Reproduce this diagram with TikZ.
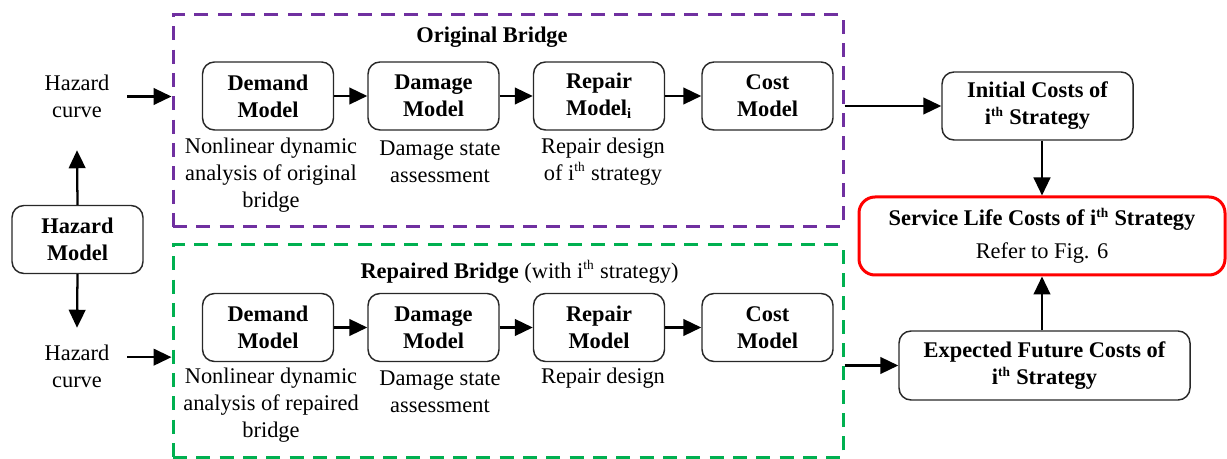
\documentclass[tikz,border=0pt]{standalone}
\usepackage{fontspec}
\setmainfont{Liberation Serif}
\usetikzlibrary{arrows.meta}
\definecolor{bridgepurple}{RGB}{112,48,160}
\definecolor{bridgegreen}{RGB}{0,176,80}
\definecolor{boxline}{RGB}{40,40,40}
% small raised ordinal suffix
\newcommand{\ordsup}[1]{\textsuperscript{\fontsize{10}{10}\selectfont #1}}
\begin{document}
\begin{tikzpicture}[x=0.75pt,y=-0.75pt,
  every node/.style={font=\fontsize{16.8}{20.2}\selectfont},
  model/.style={draw=boxline, line width=1.1pt, rounded corners=9pt, align=center,
    font=\fontsize{16.8}{20.2}\selectfont\bfseries,
    minimum width=98.25pt, minimum height=51pt, inner sep=0pt},
  note/.style={align=center, inner sep=0pt},
  group/.style={line width=2.25pt, dash pattern=on 10.5pt off 7pt, inner sep=0pt},
  arr/.style={line width=1.7pt, -{Triangle[length=13.5pt,width=12.5pt]}}
]
\useasboundingbox (0,0) rectangle (1227,459);

% dashed groups
\node[group, draw=bridgepurple, minimum width=502.5pt, minimum height=159pt] (orig) at (508,121) {};
\node[group, draw=bridgegreen, minimum width=502.5pt, minimum height=159pt] (rep) at (508,351) {};

% group titles
\node[font=\fontsize{16.8}{20.2}\selectfont\bfseries] (origt) at (492,37) {Original Bridge};
\node (rept) at (519.5,272) {\textbf{Repaired Bridge} (with i\ordsup{th} strategy)};

% hazard
\node[model] (hm) at (77.5,239.5) {Hazard\\Model};
\node[note, minimum width=75pt, minimum height=80.25pt] (hc1) at (77,96.5) {Hazard\\curve};
\node[note, minimum width=75pt, minimum height=57.75pt] (hc2) at (77,366.5) {Hazard\\curve};

% original bridge chain
\node[model] (dm1) at (268,96) {Demand\\Model};
\node[model] (dg1) at (433.5,96) {Damage\\Model};
\node[model] (rp1) at (599,96) {Repair\\Model\textsubscript{\fontsize{11}{11}\selectfont i}};
\node[model] (cm1) at (767.5,96) {Cost\\Model};
\node[note] (dm1n) at (271,175) {Nonlinear dynamic\\analysis of original\\bridge};
\node[note] (dg1n) at (440,161.5) {Damage state\\assessment};
\node[note] (rp1n) at (603,161.5) {Repair design\\of i\ordsup{th} strategy};

% repaired bridge chain
\node[model] (dm2) at (268,327.5) {Demand\\Model};
\node[model] (dg2) at (433.5,327.5) {Damage\\Model};
\node[model] (rp2) at (599,327.5) {Repair\\Model};
\node[model] (cm2) at (767.5,327.5) {Cost\\Model};
\node[note] (dm2n) at (271,405) {Nonlinear dynamic\\analysis of repaired\\bridge};
\node[note] (dg2n) at (440,391.5) {Damage state\\assessment};
\node[note] (rp2n) at (603,378) {Repair design};

% cost summary
\node[model, minimum width=143.25pt] (init) at (1037.5,106) {Initial Costs of\\i\ordsup{th} Strategy};
\node[draw=red, line width=2.25pt, rounded corners=12pt, inner sep=0pt,
  minimum width=274.5pt, minimum height=58.5pt, align=center] (svc) at (1042,236)
  {\textbf{Service Life Costs of i\ordsup{th} Strategy}\\[4.5pt]Refer to Fig. 6};
\node[model, minimum width=218.25pt, minimum height=51.75pt] (exp) at (1044.5,365.5) {Expected Future Costs of\\i\ordsup{th} Strategy};

% connectors
\draw[arr] (hm.north) -- (hc1.south);
\draw[arr] (hm.south) -- (hc2.north);
\draw[arr] (hc1.east) -- (hc1.east -| orig.west);
\draw[arr] ([yshift=7pt]hc2.east) -- ([yshift=7pt]hc2.east -| rep.west);
\draw[arr] (dm1.east) -- (dg1.west);
\draw[arr] (dg1.east) -- (rp1.west);
\draw[arr] (rp1.east) -- (cm1.west);
\draw[arr] (dm2.east) -- (dg2.west);
\draw[arr] (dg2.east) -- (rp2.west);
\draw[arr] (rp2.east) -- (cm2.west);
\draw[arr] (orig.east |- init.west) -- (init.west);
\draw[arr] (rep.east |- exp.west) -- (exp.west);
\draw[arr] (svc.north |- init.south) -- (svc.north);
\draw[arr] (svc.south |- exp.north) -- (svc.south);
\end{tikzpicture}
\end{document}
